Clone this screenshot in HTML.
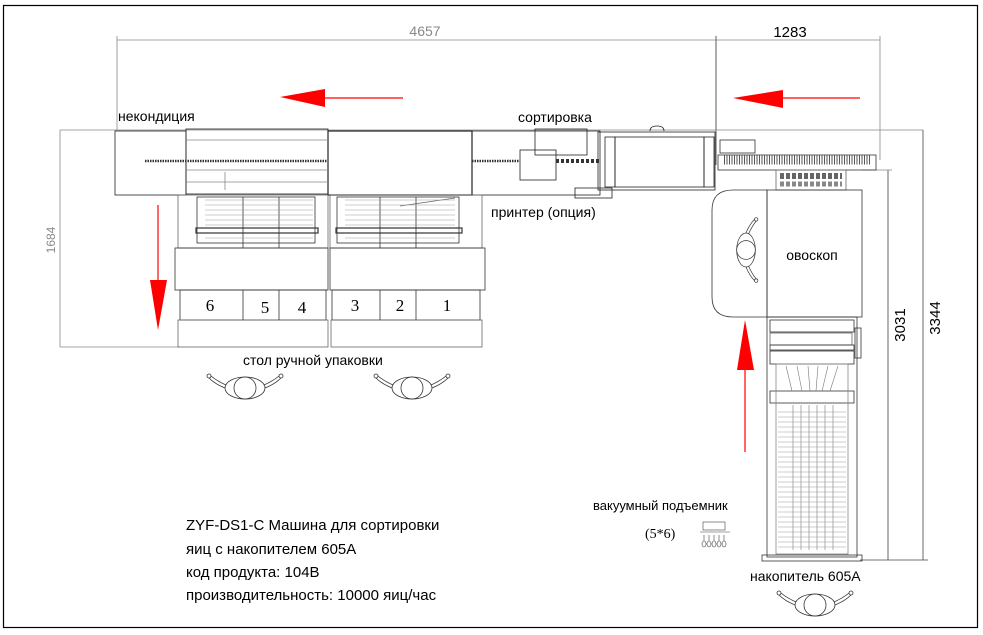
<!DOCTYPE html>
<html><head><meta charset="utf-8"><style>
html,body{margin:0;padding:0;background:#fff;}
svg{display:block;}
text{font-family:"Liberation Sans","DejaVu Sans",sans-serif;}
text.serif{font-family:"Liberation Serif","DejaVu Serif",serif;}
</style></head><body>
<svg width="983" height="635" viewBox="0 0 983 635" xmlns="http://www.w3.org/2000/svg">
<defs>
<g id="eye" fill="none" stroke="#333" stroke-width="0.8">
<ellipse cx="0" cy="0" rx="20" ry="11"/>
<circle cx="0" cy="0" r="11"/>
<path d="M-20,0 Q-30,-4 -36,-10"/><path d="M-19,-3 Q-28,-7 -34,-12"/>
<circle cx="-36" cy="-12" r="2"/>
<path d="M20,0 Q30,-4 36,-10"/><path d="M19,-3 Q28,-7 34,-12"/>
<circle cx="36" cy="-12" r="2"/>
</g>
</defs>
<rect x="3.5" y="5.5" width="974" height="622" fill="none" stroke="#000" stroke-width="1.2"/>

<!-- dimensions -->
<g stroke="#888" stroke-width="0.8" fill="none">
<line x1="117" y1="40" x2="716" y2="40"/>
<line x1="117" y1="36" x2="117" y2="130"/>
<line x1="716" y1="36" x2="716" y2="165" stroke="#333"/>
<line x1="716" y1="40" x2="880" y2="40"/>
<line x1="880" y1="36" x2="880" y2="160"/>
<line x1="60" y1="130" x2="923" y2="130"/>
<line x1="60" y1="130" x2="60" y2="347"/>
<line x1="60" y1="347" x2="180" y2="347"/>
<line x1="888" y1="170" x2="888" y2="560" stroke="#444"/>
<line x1="923" y1="130" x2="923" y2="560" stroke="#444"/>
<line x1="860" y1="560" x2="928" y2="560" stroke="#444"/>
<line x1="862" y1="170" x2="892" y2="170"/>
</g>
<text x="425" y="36" font-size="14" fill="#888" text-anchor="middle">4657</text>
<text x="790" y="37" font-size="15" fill="#000" text-anchor="middle">1283</text>
<text x="0" y="0" font-size="12" fill="#888" text-anchor="middle" transform="translate(55,240) rotate(-90)">1684</text>
<text x="0" y="0" font-size="15" fill="#000" text-anchor="middle" transform="translate(905,325) rotate(-90)">3031</text>
<text x="0" y="0" font-size="15" fill="#000" text-anchor="middle" transform="translate(940,318) rotate(-90)">3344</text>

<!-- red arrows -->
<g fill="#f00" stroke="#f00">
<line x1="320" y1="98" x2="403" y2="98" stroke-width="1.2"/>
<polygon points="280,97 325,89 325,107" stroke="none"/>
<line x1="778" y1="98" x2="860" y2="98" stroke-width="1.2"/>
<polygon points="733,98 783,90 783,108" stroke="none"/>
<line x1="158" y1="205" x2="158" y2="285" stroke-width="1.2"/>
<polygon points="150,280 167,280 158,330" stroke="none"/>
<line x1="745" y1="365" x2="745" y2="452" stroke-width="1.2"/>
<polygon points="737,370 754,370 745,320" stroke="none"/>
</g>

<!-- machine top row -->
<g fill="none" stroke="#222" stroke-width="0.8">
<rect x="115" y="131" width="71" height="64"/>
<rect x="186" y="129" width="142" height="65"/>
<rect x="328" y="131" width="144" height="64" stroke-width="1.2"/>
<rect x="472" y="131" width="128" height="64"/>
<rect x="535" y="129" width="52" height="26"/>
<rect x="520" y="150" width="36" height="30"/>
<rect x="575" y="188" width="37" height="10"/>
<rect x="598" y="132" width="117" height="58"/>
<rect x="615" y="137" width="89" height="50"/>
<rect x="605" y="137" width="10" height="50"/>
<rect x="704" y="137" width="10" height="50"/>
<line x1="186" y1="140" x2="328" y2="140" stroke="#888"/>
<line x1="186" y1="170" x2="328" y2="170" stroke="#888"/>
<line x1="186" y1="182" x2="328" y2="182" stroke="#888"/>
<line x1="225" y1="172" x2="225" y2="190" stroke="#888"/>
<path d="M650,131 q0,-5 7,-5 q7,0 7,5" />
</g>
<g stroke="#333">
<line x1="145" y1="161" x2="328" y2="161" stroke-width="2.5" stroke-dasharray="1.5 1"/>
<line x1="472" y1="161" x2="520" y2="161" stroke-width="2.5" stroke-dasharray="1.5 1"/>
<line x1="556" y1="161" x2="600" y2="161" stroke-width="4" stroke-dasharray="3 2"/>
</g>
<!-- right conveyor -->
<g fill="none" stroke="#333" stroke-width="0.8">
<rect x="718" y="155" width="158" height="15"/>
<line x1="724" y1="160" x2="870" y2="160" stroke-width="9" stroke-dasharray="1 1.5" stroke="#555"/>
<rect x="720" y="140" width="35" height="13"/>
<rect x="776" y="170" width="70" height="20" stroke="#666"/>
<line x1="780" y1="176" x2="842" y2="176" stroke-width="6" stroke-dasharray="4 2" stroke="#666"/>
<line x1="780" y1="184" x2="842" y2="184" stroke-width="5" stroke-dasharray="4 2" stroke="#888"/>
</g>

<!-- ovoscope -->
<g fill="none" stroke="#333" stroke-width="0.8">
<path d="M767,190 H733 Q712,190 712,210 V297 Q712,317 733,317 H767 Z"/>
<rect x="767" y="190" width="95" height="127"/>
</g>
<g transform="translate(746,250) rotate(90) scale(0.85)"><use href="#eye"/></g>
<text x="812" y="260" font-size="14" text-anchor="middle">овоскоп</text>

<!-- accumulator -->
<g fill="none" stroke="#333" stroke-width="0.8">
<rect x="767" y="317" width="90" height="240"/>
<rect x="770" y="320" width="84" height="12"/>
<rect x="770" y="333" width="82" height="12" stroke="#666"/>
<rect x="770" y="345" width="84" height="5"/>
<rect x="770" y="351" width="84" height="13"/>
<rect x="770" y="391" width="84" height="12"/>
<rect x="762" y="555" width="100" height="6"/>
<rect x="855" y="328" width="6" height="30"/>
<rect x="776" y="364" width="72" height="190" stroke="#888"/>
</g>
<g stroke="#777" stroke-width="0.6" fill="none">
<path d="M786,366 L792,391 M797,366 L802,391 M808,366 L810,391 M818,366 L816,391 M828,366 L822,391 M838,366 L830,391"/>
<path d="M793,405 V550 M801,405 V550 M809,405 V550 M817,405 V550 M825,405 V550 M833,405 V550"/>
</g>
<g stroke="#999" stroke-width="0.6">
<path d="M778,412H846M778,417H846M778,422H846M778,427H846M778,432H846M778,437H846M778,442H846M778,447H846M778,452H846M778,457H846M778,462H846M778,467H846M778,472H846M778,477H846M778,482H846M778,487H846M778,492H846M778,497H846M778,502H846M778,507H846M778,512H846M778,517H846M778,522H846M778,527H846M778,532H846M778,537H846M778,542H846M778,547H846"/>
</g>

<!-- packing tables -->
<g fill="none" stroke="#333" stroke-width="0.8">
<rect x="178" y="195" width="150" height="53" stroke="#666"/>
<rect x="330" y="195" width="152" height="53" stroke="#666"/>
<rect x="197" y="197" width="118" height="46"/>
<rect x="337" y="197" width="122" height="46"/>
<rect x="196" y="228" width="122" height="5" stroke-width="1.2"/>
<rect x="336" y="228" width="126" height="5" stroke-width="1.2"/>
<rect x="175" y="248" width="153" height="42"/>
<rect x="330" y="248" width="155" height="42"/>
<rect x="180" y="290" width="146" height="30"/>
<rect x="332" y="290" width="148" height="30"/>
<rect x="178" y="320" width="150" height="27" stroke="#666"/>
<rect x="331" y="320" width="151" height="27" stroke="#666"/>
<line x1="243" y1="290" x2="243" y2="320"/>
<line x1="279" y1="290" x2="279" y2="320"/>
<line x1="380" y1="290" x2="380" y2="320"/>
<line x1="416" y1="290" x2="416" y2="320"/>
<line x1="243" y1="197" x2="243" y2="248"/>
<line x1="279" y1="197" x2="279" y2="248"/>
<line x1="380" y1="197" x2="380" y2="248"/>
<line x1="416" y1="197" x2="416" y2="248"/>
<line x1="400" y1="206" x2="455" y2="198" stroke="#666"/>
</g>
<g stroke="#999" stroke-width="0.6">
<path d="M205,200H313M205,205H313M205,210H313M205,215H313M205,220H313M205,225H313M205,238H313"/>
<path d="M345,200H455M345,205H455M345,210H455M345,215H455M345,220H455M345,225H455M345,238H455"/>
</g>
<g font-size="17" text-anchor="middle">
<text class="serif" x="210" y="311">6</text><text class="serif" x="265" y="313">5</text><text class="serif" x="302" y="313">4</text>
<text class="serif" x="355" y="311">3</text><text class="serif" x="400" y="311">2</text><text class="serif" x="447" y="311">1</text>
</g>

<!-- eyes -->
<use href="#eye" transform="translate(245,388)"/>
<use href="#eye" transform="translate(412,388)"/>
<use href="#eye" transform="translate(815,605)"/>

<!-- labels -->
<g font-size="14" fill="#000">
<text x="118" y="121">некондиция</text>
<text x="518" y="122">сортировка</text>
<text x="491" y="217">принтер (опция)</text>
<text x="243" y="365">стол ручной упаковки</text>
<text x="593" y="510" font-size="13">вакуумный подъемник</text>
<text x="750" y="581">накопитель 605A</text>
</g>
<text class="serif" x="645" y="538" font-size="14">(5*6)</text>
<g fill="none" stroke="#444" stroke-width="0.6">
<rect x="703" y="522" width="22" height="8"/>
<line x1="700" y1="532" x2="730" y2="532"/>
<path d="M704,535v6M709,535v6M714,535v6M719,535v6M724,535v6"/>
<ellipse cx="704" cy="544" rx="2" ry="3"/><ellipse cx="709" cy="544" rx="2" ry="3"/><ellipse cx="714" cy="544" rx="2" ry="3"/><ellipse cx="719" cy="544" rx="2" ry="3"/><ellipse cx="724" cy="544" rx="2" ry="3"/>
</g>
<g font-size="15" fill="#000">
<text x="186" y="530">ZYF-DS1-C Машина для сортировки</text>
<text x="186" y="554">яиц с накопителем 605A</text>
<text x="186" y="577">код продукта: 104B</text>
<text x="186" y="600">производительность: 10000 яиц/час</text>
</g>
</svg>
</body></html>
